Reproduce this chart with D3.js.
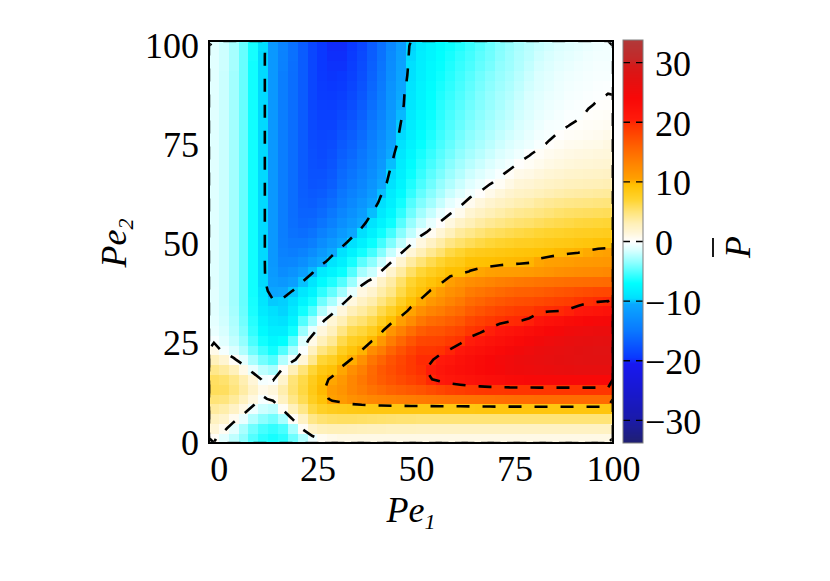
<!DOCTYPE html>
<html>
<head>
<meta charset="utf-8">
<script src="https://cdn.jsdelivr.net/npm/d3@7"></script>
<style>
body { margin: 0; background: #fff; }
text { font-family: "Liberation Serif", "Times New Roman", serif; fill: #000; }
</style>
</head>
<body>
<svg width="830" height="581"></svg>
<script>
// sample points of the map
var pe1 = [0,2.5,5,7.5,10,12.5,15,17.5,20,22.5,25,27.5,30,32.5,35,37.5,40,42.5,45,47.5,50,52.5,55,57.5,60,62.5,65,67.5,70,72.5,75,77.5,80,82.5,85,87.5,90,92.5,95,97.5,100];
var pe2 = [0,2.5,5,7.5,10,12.5,15,17.5,20,22.5,25,27.5,30,32.5,35,37.5,40,42.5,45,47.5,50,52.5,55,57.5,60,62.5,65,67.5,70,72.5,75,77.5,80,82.5,85,87.5,90,92.5,95,97.5,100];

// P-bar, one column per Pe1 value, read from bottom (Pe2 = 0) to top (Pe2 = 100)
var pbar = [
 [0.3,1.5,2.6,3.8,5,5.8,5.6,4.4,2.8,0.8, -0.3,-0.8,-1,-1.1,-1.1,-1.1,-1.2,-1.2,-1.2,-1.2, -1.2,-1.2,-1.2,-1.2,-1.2,-1.2,-1.2,-1.2,-1.2,-1.2, -1.2,-1.2,-1.2,-1.2,-1.2,-1.1,-1.1,-1.1,-1.1,-1.1,-1.1],
 [-1,0.5,2,3.4,4.8,5.7,5.3,3.8,1.8,-0.4, -1.1,-1.5,-1.7,-1.8,-1.9,-1.9,-1.9,-1.9,-1.9,-1.9, -1.9,-1.9,-1.9,-1.9,-1.9,-1.9,-1.9,-1.9,-1.9,-1.9, -1.9,-1.9,-1.9,-1.9,-1.9,-1.9,-1.9,-1.9,-1.8,-1.8,-1.8],
 [-2.2,-1,0.6,2.4,3.9,4.8,4.4,2.8,0.3,-1.4, -2.1,-2.5,-2.7,-2.9,-3,-3,-3,-3,-3,-3, -3,-3,-3,-3,-3,-3,-3,-3,-3,-3, -3,-3,-3,-3,-3,-3,-3,-3,-2.9,-2.9,-2.9],
 [-3.5,-2.8,-0.8,1,2.6,3.6,3.2,0.9,-1,-2.6, -3.4,-3.9,-4.2,-4.4,-4.5,-4.5,-4.5,-4.5,-4.5,-4.5, -4.5,-4.5,-4.5,-4.5,-4.5,-4.5,-4.5,-4.5,-4.5,-4.5, -4.5,-4.5,-4.5,-4.5,-4.5,-4.5,-4.5,-4.5,-4.5,-4.5,-4.5],
 [-5,-4.3,-2.5,-0.6,1.2,2.2,1.5,-0.9,-2.8,-4.3, -5.2,-5.8,-6.1,-6.4,-6.5,-6.6,-6.6,-6.6,-6.6,-6.6, -6.6,-6.6,-6.6,-6.6,-6.6,-6.6,-6.6,-6.6,-6.6,-6.6, -6.6,-6.6,-6.6,-6.6,-6.6,-6.6,-6.6,-6.6,-6.6,-6.5,-6.5],
 [-6,-5.3,-3.6,-1.8,-0.3,0.8,-0.4,-2.2,-4.2,-5.6, -6.6,-7.4,-8,-8.6,-9,-9.3,-9.6,-9.6,-9.6,-9.6, -9.6,-9.6,-9.6,-9.6,-9.6,-9.6,-9.6,-9.6,-9.6,-9.6, -9.6,-9.6,-9.6,-9.6,-9.6,-9.6,-9.6,-9.6,-9.6,-9.6,-9.5],
 [-6.5,-5.8,-4.2,-2.2,0.5,1.3,-0.2,-2.8,-5,-6.6, -7.6,-8.4,-9,-9.5,-9.9,-10.8,-11.5,-11.8,-12,-12, -12,-12,-12,-12,-12,-12,-12,-12,-12,-12, -12,-12,-12,-12,-12,-12,-12,-12,-12,-12,-12],
 [-6,-5.2,-2.8,0.4,2.5,3.3,2,0.3,-2.5,-5, -7,-8.4,-9.3,-9.7,-9.8,-10.6,-12,-13,-13.7,-14.1, -14.3,-14.4,-14.4,-14.4,-14.4,-14.4,-14.4,-14.4,-14.4,-14.4, -14.4,-14.4,-14.4,-14.4,-14.4,-14.4,-14.4,-14.4,-14.2,-14.1,-14],
 [-4.3,-2.8,0.3,2.8,4.5,5.2,5,3,-0.6,-2.8, -4.8,-6.6,-7.9,-8.7,-9.4,-9.95,-11.3,-12.5,-13.6,-14.4, -15,-15.4,-15.6,-15.7,-15.7,-15.7,-15.7,-15.7,-15.7,-15.7, -15.7,-15.7,-15.7,-15.7,-15.7,-15.7,-15.7,-15.7,-15.6,-15.5,-15.5],
 [-2.5,0.3,2.4,4.5,6,6.5,6.3,5,1.5,-0.2, -1.3,-3.2,-5,-6.6,-7.8,-8.9,-10.05,-11.4,-12.8,-14, -15,-15.7,-16.2,-16.5,-16.7,-16.8,-16.9,-17,-17,-17, -17,-17,-17,-17,-17,-17,-17,-17,-17,-17,-17],
 [-0.6,2.2,4.5,6.5,7.8,8.3,8,6.8,4.3,2.6, 0.9,-0.9,-3,-5,-6.5,-7.8,-9,-10.2,-11.6,-13, -14.3,-15.3,-16,-16.5,-16.9,-17.2,-17.5,-17.7,-17.8,-17.9, -18,-18.2,-18.3,-18.4,-18.5,-18.5,-18.5,-18.5,-18.5,-18.5,-18.5],
 [0.5,2.8,5.2,7.5,9.1,9.7,9.5,8.5,6.8,4.7, 2.8,1.3,-0.4,-2.5,-4.3,-5.9,-7.3,-8.6,-10.5,-11.8, -13,-14.2,-15.2,-15.9,-16.4,-17,-17.4,-17.7,-18,-18.2, -18.3,-18.5,-18.7,-18.9,-19,-19.2,-19.3,-19.4,-19.5,-19.5,-19.5],
 [0.8,3,5.5,8,10.5,10.9,10.3,9.2,7.6,5.8, 4.1,2.7,1.6,-0.8,-2.8,-4.6,-6.3,-7.8,-9.2,-10.5, -11.9,-13.1,-14.2,-15,-15.7,-16.3,-16.8,-17.2,-17.5,-17.8, -18.1,-18.4,-18.7,-18.9,-19.1,-19.3,-19.5,-19.6,-19.7,-19.8,-19.9],
 [1,3,5.6,8.2,11,11.6,11.2,10.3,9.3,7.8, 6.2,4.6,3,1.3,-0.9,-3,-5,-6.8,-8.2,-9.3, -10.7,-11.8,-12.8,-13.7,-14.5,-15.1,-15.6,-16,-16.4,-16.8, -17.2,-17.6,-18,-18.4,-18.7,-19,-19.3,-19.5,-19.7,-19.8,-19.9],
 [1,2.9,5.6,8.4,11.8,12.8,12.8,12,10.1,9, 7.6,6.1,4.5,2.9,1.2,-1,-3.2,-5,-6.5,-8, -9.4,-10.7,-11.8,-12.7,-13.4,-14.1,-14.7,-15.2,-15.6,-16.1, -16.5,-16.9,-17.3,-17.7,-18,-18.3,-18.6,-18.9,-19.1,-19.3,-19.5],
 [1,2.8,5.5,8.5,12.3,13.6,14,13.3,11.8,9.9, 8.3,6.7,5.2,3.7,2.4,1.1,-0.8,-2.9,-4.8,-6.6, -8.1,-9.5,-10.6,-11.5,-12.3,-13.1,-13.7,-14.2,-14.7,-15.1, -15.5,-15.9,-16.3,-16.7,-17,-17.3,-17.6,-17.9,-18.1,-18.3,-18.5],
 [1,2.7,5.4,8.6,12.7,14.5,15.3,15.2,14.2,12.2, 9.7,7.9,6.2,4.7,3.3,1.9,0.5,-1.9,-3.6,-5.4, -6.8,-8.1,-9.2,-10.1,-11,-11.8,-12.4,-12.9,-13.4,-13.8, -14.1,-14.5,-14.9,-15.3,-15.6,-15.9,-16.2,-16.5,-16.7,-16.9,-17],
 [1,2.7,5.3,8.6,13,15.2,16.3,16.5,15.6,13.6, 11.2,9.6,7.8,6.2,4.7,3.4,2.2,0.1,-1.9,-3.8, -5.4,-6.7,-7.9,-8.8,-9.5,-10.1,-10.8,-11.4,-11.9,-12.4, -12.7,-13.1,-13.5,-13.9,-14.2,-14.4,-14.7,-15,-15.2,-15.4,-15.5],
 [1,2.6,5.2,8.6,13.2,15.8,17,17.4,17,15.6, 13.6,11.5,9.4,7.5,5.9,4.5,3.6,1.9,-0.1,-2, -3.9,-5.4,-6.7,-7.6,-8.2,-8.6,-9.3,-9.6,-10.1,-10.5, -11,-11.3,-11.6,-11.9,-12.1,-12.3,-12.5,-12.8,-13,-13.2,-13.5],
 [1,2.6,5.1,8.6,13.4,16.2,17.7,18.2,18,17, 15.3,13.2,10.6,9.2,7.6,6.3,5.4,3.7,1.8,-0.3, -2.2,-3.7,-4.9,-5.9,-6.6,-7.3,-7.8,-8.2,-8.5,-8.9, -9.3,-9.6,-9.9,-10.2,-10.4,-10.5,-10.8,-11,-11.2,-11.3,-11.5],
 [1,2.6,5.1,8.6,13.6,16.6,18.3,19,19,18.2, 16.8,14.8,12.3,10.4,9.3,8,7,5.5,3.7,1.5, -0.5,-2.2,-3.3,-4.3,-5,-5.8,-6.3,-6.8,-7.2,-7.6, -8,-8.3,-8.5,-8.7,-8.9,-9,-9.2,-9.4,-9.5,-9.6,-9.7],
 [1,2.5,5,8.6,13.8,17,18.9,19.6,19.8,19.2, 18,16.2,14,11.9,10.2,9.1,8.3,6.8,5,3, 1.2,-0.7,-2,-3,-3.9,-4.6,-5.2,-5.7,-6.1,-6.5, -6.9,-7.2,-7.4,-7.6,-7.8,-7.9,-8,-8.2,-8.3,-8.4,-8.5],
 [1,2.5,5,8.6,14,17.5,19.9,20.4,19.8,19.2, 18.1,16.8,15,13,11.2,10.1,9.1,7.8,6.1,4.2, 2.4,0.5,-0.9,-2,-3,-3.7,-4.3,-4.8,-5.3,-5.7, -6.1,-6.4,-6.6,-6.8,-6.9,-7,-7.2,-7.4,-7.5,-7.7,-7.8],
 [1,2.5,5,8.6,14.2,18,20.6,21.3,20.6,19.5, 18.3,17,15.4,13.6,12,10.8,9.7,8.5,7,5.2, 3.5,1.6,0.1,-0.9,-2,-2.8,-3.4,-4,-4.5,-4.9, -5.3,-5.6,-5.8,-6,-6.1,-6.3,-6.5,-6.7,-6.9,-7,-7.2],
 [1,2.5,5,8.6,14.3,18.4,21.2,22,21.2,20.1, 18.9,17.6,16.1,14.5,13,11.8,10.6,9.4,8,6.4, 4.6,2.8,1.2,-0.15,-1,-1.9,-2.6,-3.2,-3.7,-4.2, -4.6,-4.9,-5.1,-5.3,-5.5,-5.7,-5.9,-6.1,-6.3,-6.5,-6.7],
 [1,2.5,5,8.6,14.4,18.7,21.6,22.6,22.2,21, 19.4,18.1,16.7,15.2,13.8,12.5,11.4,9.5,8.4,7, 5.3,3.8,2.2,0.7,-0.4,-1.2,-1.9,-2.5,-3,-3.5, -3.9,-4.2,-4.5,-4.7,-4.9,-5.1,-5.3,-5.5,-5.7,-5.9,-6.2],
 [1,2.5,5,8.6,14.5,19,22,23.1,22.8,21.8, 20.4,19.1,17.8,16.3,15,13.7,12.1,10.05,9.3,7.9, 5.9,4.4,3,1.8,0.6,-0.5,-1.2,-1.8,-2.4,-2.9, -3.3,-3.6,-3.9,-4.1,-4.3,-4.5,-4.7,-4.9,-5.2,-5.4,-5.6],
 [1,2.5,5,8.7,14.6,19.1,22.4,23.6,23.4,22.4, 21.1,19.6,18.4,17,15.6,14.2,12.5,10.3,9.4,8.2, 6.4,5,3.6,2.4,1.3,0.1,-0.7,-1.3,-1.9,-2.4, -2.8,-3.1,-3.4,-3.6,-3.8,-3.9,-4.1,-4.3,-4.6,-4.8,-5],
 [1,2.5,5,8.7,14.7,19.2,22.8,24,24,23, 21.8,20.3,19,17.6,16.2,14.7,12.9,10.5,9.5,8.4, 6.8,5.5,4.1,3,1.9,0.8,-0.1,-0.8,-1.4,-1.9, -2.3,-2.6,-2.9,-3.1,-3.3,-3.4,-3.6,-3.8,-4.1,-4.3,-4.4],
 [1,2.5,5,8.7,14.8,19.2,23.1,24.5,24.6,23.7, 22.5,21,19.5,18.1,16.7,15.2,13.3,10.7,9.6,8.6, 7.1,5.8,4.5,3.4,2.4,1.4,0.4,-0.3,-0.9,-1.4, -1.8,-2.1,-2.4,-2.6,-2.8,-2.9,-3.1,-3.3,-3.5,-3.7,-3.8],
 [1,2.5,5,8.7,14.9,19.3,23.4,25,25.1,24.3, 23.1,21.6,19.8,18.5,17.1,15.6,13.6,10.8,9.7,8.8, 7.4,6.1,4.9,3.8,2.8,1.9,1,0.3,-0.5,-1, -1.4,-1.7,-2,-2.2,-2.3,-2.5,-2.7,-2.9,-3.1,-3.2,-3.3],
 [1,2.5,5,8.7,15,19.3,23.6,25.3,25.6,24.9, 23.7,22.2,19.9,18.9,17.4,15.9,13.9,10.9,9.75,9, 7.7,6.4,5.2,4.2,3.2,2.3,1.5,0.8,0.1,-0.6, -1,-1.3,-1.5,-1.7,-1.8,-2,-2.2,-2.4,-2.6,-2.7,-2.8],
 [1,2.5,5,8.7,15,19.3,23.8,25.5,25.9,25.4, 24.3,22.8,20.3,19,17.5,16,14.1,11,9.85,9.1, 7.8,6.6,5.4,4.4,3.4,2.5,1.7,1,0.4,-0.1, -0.7,-0.9,-1.1,-1.3,-1.4,-1.5,-1.7,-1.9,-2.1,-2.3,-2.4],
 [1,2.5,5,8.7,15.1,19.3,23.9,25.8,26.3,25.9, 24.9,23.5,21.5,19.6,17.8,16.2,14.3,11.3,10.3,9.3, 8,6.9,5.7,4.7,3.8,2.8,2,1.3,0.7,0.3, -0.3,-0.5,-0.7,-0.9,-1,-1.1,-1.3,-1.4,-1.6,-1.8,-2],
 [1,2.5,5,8.7,15.1,19.3,23.9,26,26.6,26.3, 25.4,24,22.2,19.8,18.1,16.5,14.5,11.6,10.5,9.5, 8.2,7.1,6,5,4.1,3.1,2.3,1.6,1,0.6, 0.15,-0.3,-0.4,-0.6,-0.7,-0.8,-1,-1.1,-1.3,-1.5,-1.7],
 [1,2.5,5,8.7,15.1,19.3,23.9,26.2,26.8,26.6, 25.8,24.5,22.7,19.9,18.4,16.8,14.7,11.9,10.6,9.7, 8.4,7.3,6.2,5.3,4.3,3.3,2.5,1.8,1.2,0.8, 0.4,0.1,-0.3,-0.4,-0.5,-0.6,-0.7,-0.8,-1,-1.2,-1.4],
 [1,2.5,5,8.7,15.1,19.3,23.9,26.4,27,26.9, 26.2,25,23.3,20.2,18.7,17.1,14.8,12.1,10.8,9.8, 8.5,7.5,6.4,5.5,4.5,3.5,2.7,2,1.4,1, 0.6,0.3,-0.05,-0.2,-0.3,-0.4,-0.5,-0.6,-0.8,-1,-1.2],
 [1,2.5,5,8.7,15.1,19.3,23.9,26.5,27.2,27.1, 26.5,25.4,23.7,20.8,19.2,17.4,14.9,12.3,11,9.9, 8.7,7.7,6.6,5.6,4.6,3.6,2.8,2.1,1.5,1.1, 0.7,0.4,0.2,-0.2,-0.2,-0.3,-0.4,-0.5,-0.6,-0.8,-1],
 [1,2.5,5,8.7,15.1,19.3,23.9,26.5,27.3,27.3, 26.7,25.7,24,21.3,19.6,17.6,15,12.4,11.1,10.2, 8.9,7.8,6.7,5.7,4.7,3.7,2.9,2.2,1.6,1.2, 0.8,0.5,0.3,0.15,-0.1,-0.2,-0.3,-0.4,-0.5,-0.6,-0.8],
 [1,2.5,5,8.7,15.1,19.3,23.9,26.5,27.3,27.4, 26.9,25.9,24.3,21.7,19.8,17.8,15.1,12.5,11.2,10.4, 9.1,7.9,6.8,5.8,4.8,3.8,3,2.3,1.7,1.3, 0.9,0.6,0.4,0.25,0.1,-0.1,-0.2,-0.3,-0.4,-0.5,-0.6],
 [1,2.5,5,8.7,15.1,19.3,23.9,26.5,27.3,27.4, 27,26,24.5,22,19.95,17.9,15.2,12.6,11.3,10.5, 9.2,8,6.9,5.9,4.9,3.9,3.1,2.4,1.8,1.4, 1.1,0.8,0.5,0.3,0.15,0.02,-0.15,-0.3,-0.4,-0.5,-0.5]
];

// contour levels, ticks
var levels = [-10, 0, 10, 20];
var xTicks = [0, 25, 50, 75, 100];
var yTicks = [0, 25, 50, 75, 100];
var cbTicks = [-30, -20, -10, 0, 10, 20, 30];

// colour map
var cmapValues = [-34,-30,-25,-20.5,-19.5,-15,-10.5,-9.5,-7,-3.5,-1.5,0,1.5,3,5,7,9.5,10.5,13,16,19.5,20.5,24,27,29.5,30.5,34];
var cmapColors = ["#20206e","#1a1aa8","#1818d0","#1818f0","#0a38ff","#0a78ff","#0aa8ff","#00e0ff","#00ffff","#90ffff","#d8ffff","#ffffff","#fff6d8","#fff0b8","#ffe478","#ffd430","#ffc000","#ffa000","#ff8400","#ff6000","#ff3200","#ff1a0a","#f80808","#e41010","#d41a1a","#c42828","#b03a3a"];

var svg = d3.select("svg"),
    frame = {left: 209, right: 613, top: 41, bottom: 443};

var xCell = d3.scaleBand().domain(pe1).range([frame.left, frame.right]);
var yCell = d3.scaleBand().domain(pe2).range([frame.bottom, frame.top]);
var x = d3.scaleLinear().domain([-2.5, 100]).range([frame.left, frame.right]);
var y = d3.scaleLinear().domain([-0.25, 101.25]).range([frame.bottom, frame.top]);
var color = d3.scaleLinear().domain(cmapValues).range(cmapColors).clamp(true);

var defs = svg.append("defs");
defs.append("clipPath").attr("id", "plotClip").append("rect")
    .attr("x", frame.left).attr("y", frame.top)
    .attr("width", frame.right - frame.left).attr("height", frame.bottom - frame.top);
defs.append("clipPath").attr("id", "innerClip").append("rect")
    .attr("x", frame.left + 1.2).attr("y", frame.top + 1.2)
    .attr("width", frame.right - frame.left - 2.4).attr("height", frame.bottom - frame.top - 2.4);

// heat map cells
var cells = [];
pbar.forEach(function(col, i) {
  col.forEach(function(v, j) { cells.push({a: pe1[i], b: pe2[j], v: v}); });
});

svg.append("g")
    .attr("clip-path", "url(#plotClip)")
    .attr("shape-rendering", "crispEdges")
  .selectAll("rect")
  .data(cells)
  .enter().append("rect")
    .attr("x", function(d) { return xCell(d.a); })
    .attr("y", function(d) { return yCell(d.b); })
    .attr("width", xCell.bandwidth() + 0.6)
    .attr("height", yCell.bandwidth() + 0.6)
    .attr("fill", function(d) { return color(d.v); });

// contour lines (grid row 0 = top of the plot)
var n = pe1.length, m = pe2.length, grid = new Array(n * m);
for (var r = 0; r < m; r++) {
  for (var i = 0; i < n; i++) grid[r * n + i] = pbar[i][m - 1 - r];
}
var cw = xCell.step(), ch = yCell.step();
var proj = d3.geoTransform({
  point: function(px, py) { this.stream.point(frame.left + px * cw, frame.top + py * ch); }
});

svg.append("g")
    .attr("clip-path", "url(#innerClip)")
  .selectAll("path")
  .data(d3.contours().size([n, m]).thresholds(levels)(grid))
  .enter().append("path")
    .attr("d", d3.geoPath(proj))
    .attr("fill", "none")
    .attr("stroke", "#000")
    .attr("stroke-width", 2.6)
    .attr("stroke-dasharray", "13,13");

// frame
svg.append("rect")
    .attr("x", frame.left).attr("y", frame.top)
    .attr("width", frame.right - frame.left).attr("height", frame.bottom - frame.top)
    .attr("fill", "none").attr("stroke", "#000").attr("stroke-width", 2);

// axes
var xAxis = svg.append("g")
    .attr("transform", "translate(0," + frame.bottom + ")")
    .call(d3.axisBottom(x).tickValues(xTicks).tickSize(0).tickPadding(0));
xAxis.select(".domain").remove();
xAxis.selectAll("text")
    .attr("y", 38).attr("dy", null)
    .attr("font-size", 36).attr("font-family", "Liberation Serif");

var yAxis = svg.append("g")
    .attr("transform", "translate(" + frame.left + ",0)")
    .call(d3.axisLeft(y).tickValues(yTicks).tickSize(0).tickPadding(10));
yAxis.select(".domain").remove();
yAxis.selectAll("text")
    .attr("y", 12).attr("dy", null)
    .attr("font-size", 36).attr("font-family", "Liberation Serif");

// axis titles
var xt = svg.append("text")
    .attr("x", (frame.left + frame.right) / 2).attr("y", 522)
    .attr("text-anchor", "middle")
    .attr("font-size", 36).attr("font-style", "italic");
xt.append("tspan").text("Pe");
xt.append("tspan").attr("font-size", 22).attr("dy", 7).text("1");

var yt = svg.append("text")
    .attr("transform", "translate(126,243) rotate(-90)")
    .attr("text-anchor", "middle")
    .attr("font-size", 36).attr("font-style", "italic");
yt.append("tspan").text("Pe");
yt.append("tspan").attr("font-size", 22).attr("dy", 7).text("2");

// colour bar
var cbX = 623, cbW = 20;
var cb = d3.scaleLinear().domain([-33.8, 33.8]).range([443, 40]);

svg.append("g")
    .attr("shape-rendering", "crispEdges")
  .selectAll("rect")
  .data(d3.range(40, 443))
  .enter().append("rect")
    .attr("x", cbX).attr("y", function(d) { return d; })
    .attr("width", cbW).attr("height", 1.2)
    .attr("fill", function(d) { return color(cb.invert(d + 0.5)); });

svg.append("g")
  .selectAll("line")
  .data(cbTicks)
  .enter().append("line")
    .attr("x1", cbX).attr("x2", cbX + cbW)
    .attr("y1", function(d) { return cb(d); })
    .attr("y2", function(d) { return cb(d); })
    .attr("stroke", "#000").attr("stroke-width", 1.4)
    .attr("stroke-dasharray", "7,6");

svg.append("rect")
    .attr("x", cbX).attr("y", 40).attr("width", cbW).attr("height", 403)
    .attr("fill", "none").attr("stroke", "#808080").attr("stroke-width", 1);

var cbAxis = svg.append("g")
    .attr("transform", "translate(" + (cbX + cbW) + ",0)")
    .call(d3.axisRight(cb).tickValues(cbTicks).tickSize(0)
      .tickFormat(function(d) { return d < 0 ? "\u2212" + (-d) : d; }));
cbAxis.select(".domain").remove();
cbAxis.selectAll("text")
    .attr("x", function(d) { return d < 0 ? 2 : 12; })
    .attr("y", 13).attr("dy", null)
    .attr("text-anchor", "start")
    .attr("font-size", 36).attr("font-family", "Liberation Serif");

// colour bar title: P with overbar
svg.append("text")
    .attr("transform", "translate(750,247) rotate(-90)")
    .attr("text-anchor", "middle")
    .attr("font-size", 36).attr("font-style", "italic")
    .text("P");
svg.append("line")
    .attr("x1", 713).attr("x2", 713).attr("y1", 238).attr("y2", 257)
    .attr("stroke", "#000").attr("stroke-width", 1.8);
</script>
</body>
</html>
